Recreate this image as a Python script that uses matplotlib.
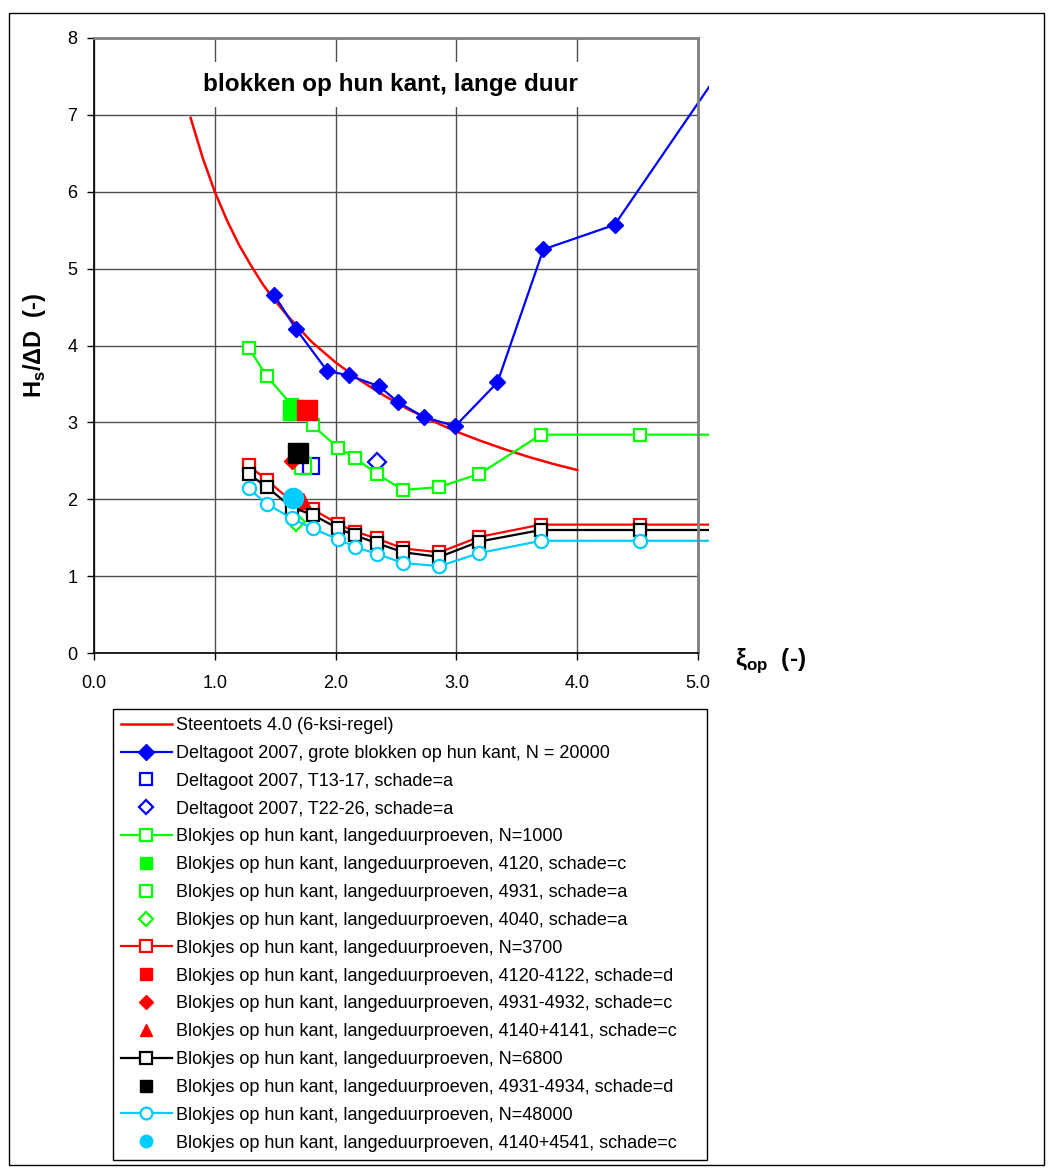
import matplotlib.pyplot as plt
from matplotlib.lines import Line2D
from matplotlib.patches import Rectangle
from matplotlib.ticker import FormatStrFormatter

plt.rcParams['font.family'] = ['Liberation Sans', 'DejaVu Sans']
plt.rcParams['mathtext.fontset'] = 'custom'
plt.rcParams['mathtext.rm'] = 'Liberation Sans'
plt.rcParams['mathtext.bf'] = 'Liberation Sans:bold'

# Steentoets 4.0 (6-ksi-regel)
steen_x = [0.8, 0.9, 1.0, 1.1, 1.2, 1.3, 1.4, 1.5, 1.6, 1.8, 2.0, 2.2, 2.4, 2.6, 2.8, 3.0, 3.2, 3.4, 3.6, 3.8, 4.0]
steen_y = [6.96, 6.44, 6.00, 5.63, 5.31, 5.04, 4.79, 4.58, 4.39, 4.05, 3.78, 3.55, 3.35, 3.17, 3.02, 2.88, 2.76, 2.65, 2.55, 2.46, 2.38]

# Deltagoot 2007, grote blokken (last point lies outside the plot)
delta_x = [1.49, 1.67, 1.93, 2.11, 2.36, 2.52, 2.73, 2.99, 3.34, 3.72, 4.31, 5.5]
delta_y = [4.66, 4.22, 3.67, 3.61, 3.47, 3.26, 3.07, 2.95, 3.52, 5.25, 5.57, 8.30]

# langeduurproeven series
n1000_x = [1.28, 1.43, 1.64, 1.81, 2.02, 2.16, 2.34, 2.56, 2.86, 3.19, 3.70, 4.52, 5.5]
n1000_y = [3.97, 3.60, 3.22, 2.96, 2.67, 2.54, 2.33, 2.12, 2.16, 2.33, 2.84, 2.84, 2.84]

blok_x = [1.28, 1.43, 1.64, 1.81, 2.02, 2.16, 2.34, 2.56, 2.86, 3.19, 3.70, 4.52, 5.5]
n3700_y = [2.44, 2.25, 1.97, 1.87, 1.68, 1.58, 1.49, 1.36, 1.31, 1.51, 1.67, 1.67, 1.67]
n6800_y = [2.33, 2.16, 1.89, 1.80, 1.62, 1.53, 1.43, 1.31, 1.25, 1.45, 1.60, 1.60, 1.60]
n48000_y = [2.14, 1.94, 1.75, 1.62, 1.48, 1.38, 1.29, 1.17, 1.13, 1.30, 1.46, 1.46, 1.46]

# single tests (x, y)
t13_17 = (1.80, 2.43)
t22_26 = (2.34, 2.49)
g4120 = (1.65, 3.16)
g4931 = (1.73, 2.43)
g4040 = (1.67, 1.71)
r4120 = (1.76, 3.16)
r4931 = (1.64, 2.50)
r4140 = (1.73, 1.98)
k4931 = (1.69, 2.60)
c4140 = (1.65, 2.02)

labels = [
    'Steentoets 4.0 (6-ksi-regel)',
    'Deltagoot 2007, grote blokken op hun kant, N = 20000',
    'Deltagoot 2007, T13-17, schade=a',
    'Deltagoot 2007, T22-26, schade=a',
    'Blokjes op hun kant, langeduurproeven, N=1000',
    'Blokjes op hun kant, langeduurproeven, 4120, schade=c',
    'Blokjes op hun kant, langeduurproeven, 4931, schade=a',
    'Blokjes op hun kant, langeduurproeven, 4040, schade=a',
    'Blokjes op hun kant, langeduurproeven, N=3700',
    'Blokjes op hun kant, langeduurproeven, 4120-4122, schade=d',
    'Blokjes op hun kant, langeduurproeven, 4931-4932, schade=c',
    'Blokjes op hun kant, langeduurproeven, 4140+4141, schade=c',
    'Blokjes op hun kant, langeduurproeven, N=6800',
    'Blokjes op hun kant, langeduurproeven, 4931-4934, schade=d',
    'Blokjes op hun kant, langeduurproeven, N=48000',
    'Blokjes op hun kant, langeduurproeven, 4140+4541, schade=c',
]

RED = '#ff0000'
BLUE = '#0000ff'
GREEN = '#00ff00'
CYAN = '#00ccff'

fig = plt.figure(figsize=(10.53, 11.69), dpi=100)
ax = fig.add_axes([94 / 1053, 1 - 653 / 1169, 604 / 1053, 615 / 1169])

# lines run a little past the right frame, like in the original
clip = Rectangle((0, 0), 1.018, 1, transform=ax.transAxes)


def draw(x, y, **kw):
    ln, = ax.plot(x, y, **kw)
    ln.set_clip_path(clip)
    return ln


draw(steen_x, steen_y, color=RED, lw=1.8)
draw(delta_x, delta_y, color=BLUE, lw=1.6, marker='D', ms=8, mfc=BLUE, mec=BLUE)
draw([t13_17[0]], [t13_17[1]], ls='none', marker='s', ms=12, mfc='none', mec=BLUE, mew=1.6)
draw([t22_26[0]], [t22_26[1]], ls='none', marker='D', ms=9.5, mfc='none', mec=BLUE, mew=1.6)
draw(n1000_x, n1000_y, color=GREEN, lw=1.6, marker='s', ms=9, mfc='white', mec=GREEN, mew=1.6)
draw([g4120[0]], [g4120[1]], ls='none', marker='s', ms=14, mfc=GREEN, mec=GREEN)
draw([g4931[0]], [g4931[1]], ls='none', marker='s', ms=12, mfc='none', mec=GREEN, mew=1.6)
draw([g4040[0]], [g4040[1]], ls='none', marker='D', ms=9.5, mfc='none', mec=GREEN, mew=1.6)
draw(blok_x, n3700_y, color=RED, lw=1.6, marker='s', ms=9, mfc='white', mec=RED, mew=1.6)
draw([r4120[0]], [r4120[1]], ls='none', marker='s', ms=14, mfc=RED, mec=RED)
draw([r4931[0]], [r4931[1]], ls='none', marker='D', ms=8.5, mfc=RED, mec=RED)
draw([r4140[0]], [r4140[1]], ls='none', marker='^', ms=11, mfc=RED, mec=RED)
draw(blok_x, n6800_y, color='black', lw=1.6, marker='s', ms=9, mfc='white', mec='black', mew=1.6)
draw([k4931[0]], [k4931[1]], ls='none', marker='s', ms=14, mfc='black', mec='black')
draw(blok_x, n48000_y, color=CYAN, lw=1.6, marker='o', ms=9.5, mfc='white', mec=CYAN, mew=1.6)
draw([c4140[0]], [c4140[1]], ls='none', marker='o', ms=14.5, mfc=CYAN, mec=CYAN)

ax.set_xlim(0, 5)
ax.set_ylim(0, 8)
ax.set_xticks([0, 1, 2, 3, 4, 5])
ax.set_yticks(range(9))
ax.xaxis.set_major_formatter(FormatStrFormatter('%.1f'))
ax.grid(True, color='#505050', lw=1)
ax.set_axisbelow(True)
ax.tick_params(direction='out', length=5, width=1, labelsize=13)
ax.tick_params(axis='x', pad=11)
ax.tick_params(axis='y', pad=7)
for s in ['left', 'bottom']:
    ax.spines[s].set_color('black')
    ax.spines[s].set_linewidth(1.2)
for s in ['top', 'right']:
    ax.spines[s].set_color('#808080')
    ax.spines[s].set_linewidth(2)

ax.text(2.45, 7.4, 'blokken op hun kant, lange duur', fontsize=17.5, fontweight='bold',
        ha='center', va='center',
        bbox=dict(boxstyle='square,pad=0.45', facecolor='white', edgecolor='none'))

fig.text(34 / 1053, 1 - 345 / 1169, r'H$_\mathbf{s}$/ΔD  (-)', rotation=90,
         fontsize=17, fontweight='bold', ha='center', va='center')
fig.text(770 / 1053, 1 - 661 / 1169, r'ξ$_\mathbf{op}$  (-)',
         fontsize=17.5, fontweight='bold', ha='center', va='center')

# legend proxies (smaller markers than in the plot)
handles = [
    Line2D([], [], color=RED, lw=1.8),
    Line2D([], [], color=BLUE, lw=1.6, marker='D', ms=8, mfc=BLUE, mec=BLUE),
    Line2D([], [], ls='none', marker='s', ms=8, mfc='none', mec=BLUE, mew=1.6),
    Line2D([], [], ls='none', marker='D', ms=7, mfc='none', mec=BLUE, mew=1.6),
    Line2D([], [], color=GREEN, lw=1.6, marker='s', ms=8, mfc='white', mec=GREEN, mew=1.6),
    Line2D([], [], ls='none', marker='s', ms=8.5, mfc=GREEN, mec=GREEN),
    Line2D([], [], ls='none', marker='s', ms=8, mfc='none', mec=GREEN, mew=1.6),
    Line2D([], [], ls='none', marker='D', ms=7, mfc='none', mec=GREEN, mew=1.6),
    Line2D([], [], color=RED, lw=1.6, marker='s', ms=8, mfc='white', mec=RED, mew=1.6),
    Line2D([], [], ls='none', marker='s', ms=8.5, mfc=RED, mec=RED),
    Line2D([], [], ls='none', marker='D', ms=7, mfc=RED, mec=RED),
    Line2D([], [], ls='none', marker='^', ms=9, mfc=RED, mec=RED),
    Line2D([], [], color='black', lw=1.6, marker='s', ms=8, mfc='white', mec='black', mew=1.6),
    Line2D([], [], ls='none', marker='s', ms=8.5, mfc='black', mec='black'),
    Line2D([], [], color=CYAN, lw=1.6, marker='o', ms=8.5, mfc='white', mec=CYAN, mew=1.6),
    Line2D([], [], ls='none', marker='o', ms=9, mfc=CYAN, mec=CYAN),
]
leg_top = 1 - 709 / 1169
leg = fig.legend(handles, labels, loc='upper left', mode='expand',
                 bbox_to_anchor=(113 / 1053, leg_top - 0.05, 594 / 1053, 0.05),
                 bbox_transform=fig.transFigure,
                 borderaxespad=0, fontsize=13, fancybox=False, edgecolor='black',
                 framealpha=1, handlelength=2.8, handletextpad=0.25, labelspacing=0.6,
                 borderpad=0.45, numpoints=1)
leg.get_frame().set_linewidth(1)

# outer border of the chart
fig.add_artist(Rectangle((9 / 1053, 4 / 1169), 1035 / 1053, 1152 / 1169,
                         transform=fig.transFigure, fill=False, ec='black', lw=1))

fig.savefig('out.png', dpi=100)
